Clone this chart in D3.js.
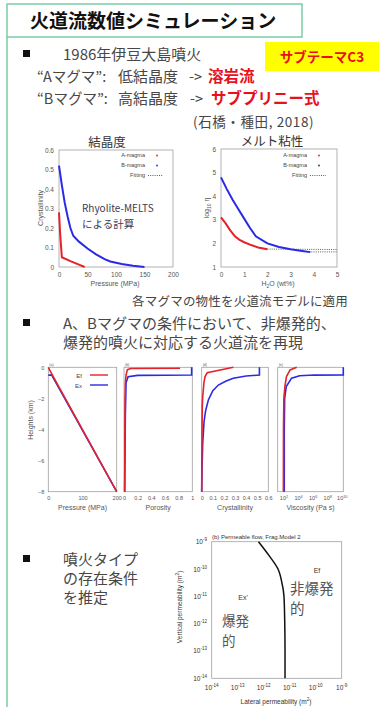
<!DOCTYPE html>
<html><head><meta charset="utf-8">
<script src="https://cdn.jsdelivr.net/npm/d3@7"></script>
<style>body{margin:0;background:#fff}svg{display:block}</style></head>
<body>
<script>
// ---------- DATA ----------
// Chart 1: crystallinity vs pressure (MPa)
const crystA = [[0,0.28],[2,0.17],[5,0.05],[20,0.03],[35,0.012],[45,0]];
const crystB = [[0,0.52],[5,0.42],[10,0.33],[15,0.26],[20,0.2],[25,0.16],[35,0.13],[50,0.095],[65,0.065],[80,0.04],[90,0.028],[110,0.015],[130,0.006],[150,0]];
const crystXTicks = [0,50,100,150,200];
const crystYTicks = [0,0.1,0.2,0.3,0.4,0.5,0.6];
// Chart 2: log10 melt viscosity vs H2O wt%
const viscA = [[0,3.1],[0.2,2.85],[0.4,2.55],[0.6,2.3],[0.8,2.15],[1.0,2.05],[1.3,1.93],[1.6,1.83],[2.0,1.75]];
const viscB = [[0,4.8],[0.25,4.3],[0.5,3.85],[0.75,3.45],[1.0,3.05],[1.25,2.65],[1.5,2.3],[2.0,2.0],[2.5,1.85],[3.0,1.75],[3.5,1.68],[3.85,1.63]];
const fitA = [[1.9,1.76],[5,1.74]];
const fitB = [[3.8,1.64],[5,1.64]];
const viscXTicks = [0,1,2,3,4,5];
const viscYTicks = [1,2,3,4,5,6];
// Conduit flow profiles, height (km)
const pressEf = [[0,0],[12,-0.5],[200,-8]];
const pressEx = [[0,-0.5],[10,-0.5],[200,-8]];
const porEf = [[0.01,-8],[0.015,-2],[0.02,-1],[0.03,-0.5],[0.05,-0.15],[0.1,-0.08],[0.82,-0.06]];
const porEx = [[0.01,-8],[0.02,-3],[0.03,-1],[0.06,-0.6],[0.2,-0.52],[0.99,-0.5],[0.99,0]];
const cryEf = [[0,-8],[0.003,-4],[0.005,-2.5],[0.01,-1.8],[0.02,-1],[0.03,-0.6],[0.05,-0.35],[0.285,0]];
const cryEx = [[0,-8],[0.003,-6.5],[0.009,-4.9],[0.021,-3.5],[0.035,-2.8],[0.06,-2.1],[0.1,-1.5],[0.15,-1.14],[0.22,-0.88],[0.285,-0.7],[0.4,-0.56],[0.52,-0.5],[0.52,0]];
const visEf = [[60,-8],[62,-4],[70,-2],[100,-1.2],[160,-0.6],[500,-0.17],[4000,0]];
const visEx = [[80,-8],[80,-4],[90,-2],[150,-1.24],[800,-0.7],[1e4,-0.54],[1e6,-0.5],[1e10,-0.49],[1e10,0]];
const heightTicks = [0,-2,-4,-6,-8];
const pressTicks = [0,100,200];
const porTicks = [0,0.2,0.4,0.6,0.8,1];
const cryTicks = [0,0.1,0.2,0.3,0.4,0.5,0.6];
const visTickExp = [2,4,6,8,10];
// Regime diagram: log10 permeability (m^2)
const boundaryLogKx = [-12.2,-11.8,-11.45,-11.3,-11.22,-11.19,-11.18,-11.18];
const boundaryLogKz = [-9,-9.5,-10,-10.5,-11,-12,-13,-14];
const permTickExp = [-14,-13,-12,-11,-10,-9];

// ---------- SETUP ----------
const W=383,H=707;
const JP='"Noto Sans CJK JP", sans-serif';
const LAT='"Liberation Sans", Arial, sans-serif';
const RED='#e4222a', BLUE='#2a2ae6', GREEN='#73c8a0', TXT='#474747';
const svg=d3.select('body').append('svg').attr('width',W).attr('height',H);

svg.append('rect').attr('x',7).attr('y',4).attr('width',295).attr('height',33)
  .attr('fill','none').attr('stroke',GREEN).attr('stroke-width',1.4);
svg.append('line').attr('x1',7).attr('x2',7).attr('y1',37).attr('y2',H)
  .attr('stroke',GREEN).attr('stroke-width',1.4);

function txt(x,y,s,o={}){
  const t=svg.append('text').attr('x',x).attr('y',y).text(s)
    .attr('font-family',o.ff||JP).attr('font-size',o.fs||15)
    .attr('fill',o.fill||TXT).attr('text-anchor',o.anchor||'start');
  if(o.fw) t.attr('font-weight',o.fw);
  if(o.ls) t.attr('letter-spacing',o.ls);
  return t;
}
txt(30,28,'火道流数値シミュレーション',{fs:19,fw:'bold',fill:'#111'});
svg.append('rect').attr('x',265).attr('y',42).attr('width',114).attr('height',29).attr('fill','#ffff00');
txt(322,62,'サブテーマC3',{fs:13.5,fw:'bold',fill:'#e8101a',anchor:'middle'});

function bullet(y){svg.append('rect').attr('x',23).attr('y',y-4).attr('width',7).attr('height',7).attr('fill','#111');}
bullet(54);
txt(63,60,'1986年伊豆大島噴火',{fs:15});
txt(37,82,'“Aマグマ”:',{fs:14.5});
txt(118,82,'低結晶度',{fs:15});
txt(189,82,'->',{fs:14.5});
txt(208,82,'溶岩流',{fs:15.5,fw:'bold',fill:'#e8101a'});
txt(37,104,'“Bマグマ”:',{fs:14.5});
txt(118,104,'高結晶度',{fs:15});
txt(190,104,'->',{fs:14.5});
txt(211,104,'サブプリニー式',{fs:15.5,fw:'bold',fill:'#e8101a'});
txt(193,127,'(石橋・種田, 2018)',{fs:13.5,ls:0.6});

function frame(x0,y0,x1,y1){
  svg.append('rect').attr('x',x0).attr('y',y0).attr('width',x1-x0).attr('height',y1-y0)
   .attr('fill','none').attr('stroke','#a0a0a0').attr('stroke-width',0.8);
}
function styleAxis(g,fs){
  g.select('.domain').remove();
  g.selectAll('line').attr('stroke','#a0a0a0');
  g.selectAll('text').attr('font-family',LAT).attr('font-size',fs).attr('fill','#555');
}
const lineGen=(xs,ys)=>d3.line().x(d=>xs(d[0])).y(d=>ys(d[1]));

// ---------- Chart 1: Crystallinity ----------
{
  const x=d3.scaleLinear([0,200],[59,173]), y=d3.scaleLinear([0,0.6],[267,150]);
  frame(59,150,173,267);
  styleAxis(svg.append('g').attr('transform','translate(0,267)')
    .call(d3.axisBottom(x).tickValues(crystXTicks).tickSize(0).tickPadding(5)),6.5);
  styleAxis(svg.append('g').attr('transform','translate(59,0)')
    .call(d3.axisLeft(y).tickValues(crystYTicks).tickSize(0).tickPadding(5).tickFormat(d=>d===0?'0':d3.format('.1f')(d))),6.5);
  svg.append('path').attr('d',lineGen(x,y)(crystB)).attr('fill','none').attr('stroke',BLUE).attr('stroke-width',2);
  svg.append('path').attr('d',lineGen(x,y)(crystA)).attr('fill','none').attr('stroke',RED).attr('stroke-width',2);
  txt(115,286,'Pressure (MPa)',{ff:LAT,fs:7,fill:'#555',anchor:'middle'});
  txt(0,0,'Crystallinity',{ff:LAT,fs:7,fill:'#555',anchor:'middle'}).attr('transform','translate(43,208) rotate(-90)');
  txt(107,147,'結晶度',{fs:12.5,anchor:'middle',fill:'#333'});
  txt(145,157,'A-magma',{ff:LAT,fs:5.5,fill:'#444',anchor:'end'});
  txt(145,167,'B-magma',{ff:LAT,fs:5.5,fill:'#444',anchor:'end'});
  txt(145,177,'Fitting',{ff:LAT,fs:5.5,fill:'#444',anchor:'end'});
  svg.append('circle').attr('cx',157).attr('cy',155.5).attr('r',0.9).attr('fill',RED);
  svg.append('circle').attr('cx',157).attr('cy',165.5).attr('r',0.9).attr('fill',BLUE);
  svg.append('line').attr('x1',148).attr('x2',163).attr('y1',175.5).attr('y2',175.5)
    .attr('stroke','#333').attr('stroke-width',0.8).attr('stroke-dasharray','1,1.2');
  txt(82,212,'Rhyolite-MELTS',{fs:10,fill:'#3c3c55'});
  txt(82,228,'による計算',{fs:10.5,fill:'#3c3c55'});
}

// ---------- Chart 2: Melt viscosity ----------
{
  const x=d3.scaleLinear([0,5],[221,337]), y=d3.scaleLinear([1,6],[267,149]);
  frame(221,149,337,267);
  styleAxis(svg.append('g').attr('transform','translate(0,267)')
    .call(d3.axisBottom(x).tickValues(viscXTicks).tickSize(0).tickPadding(5).tickFormat(d3.format('d'))),6.5);
  styleAxis(svg.append('g').attr('transform','translate(221,0)')
    .call(d3.axisLeft(y).tickValues(viscYTicks).tickSize(0).tickPadding(5).tickFormat(d3.format('d'))),6.5);
  const dash=(d)=>svg.append('path').attr('d',lineGen(x,y)(d)).attr('fill','none').attr('stroke','#333')
     .attr('stroke-width',0.8).attr('stroke-dasharray','1,1.2');
  dash(fitA); dash(fitB);
  svg.append('path').attr('d',lineGen(x,y)(viscB)).attr('fill','none').attr('stroke',BLUE).attr('stroke-width',2);
  svg.append('path').attr('d',lineGen(x,y)(viscA)).attr('fill','none').attr('stroke',RED).attr('stroke-width',2);
  const xl=txt(278,286,'H',{ff:LAT,fs:7,fill:'#555',anchor:'middle'});
  xl.append('tspan').text('2').attr('font-size',5).attr('dy',2);
  xl.append('tspan').text('O (wt%)').attr('dy',-2);
  const yl=txt(0,0,'log',{ff:LAT,fs:7,fill:'#555',anchor:'middle'}).attr('transform','translate(209,208) rotate(-90)');
  yl.append('tspan').text('10').attr('font-size',5).attr('dy',2);
  yl.append('tspan').text(' η').attr('dy',-2);
  txt(272,146,'メルト粘性',{fs:12.5,anchor:'middle',fill:'#333'});
  txt(307,157,'A-magma',{ff:LAT,fs:5.5,fill:'#444',anchor:'end'});
  txt(307,167,'B-magma',{ff:LAT,fs:5.5,fill:'#444',anchor:'end'});
  txt(307,177,'Fitting',{ff:LAT,fs:5.5,fill:'#444',anchor:'end'});
  svg.append('circle').attr('cx',319).attr('cy',155.5).attr('r',0.9).attr('fill',RED);
  svg.append('circle').attr('cx',319).attr('cy',165.5).attr('r',0.9).attr('fill','#333');
  svg.append('line').attr('x1',310).attr('x2',326).attr('y1',175.5).attr('y2',175.5)
    .attr('stroke','#333').attr('stroke-width',0.8).attr('stroke-dasharray','1,1.2');
}

txt(348,306,'各マグマの物性を火道流モデルに適用',{fs:12.5,anchor:'end',fill:'#444',ls:0.2});
bullet(323);
txt(63,329,'A、Bマグマの条件において、非爆発的、',{fs:15});
txt(63,348,'爆発的噴火に対応する火道流を再現',{fs:15});

// ---------- Conduit profiles ----------
{
  const top=367.3,bot=491.7;
  const y=d3.scaleLinear([0,-8],[top,bot]);
  const panels=[
    {x0:48.3,x1:116.7,scale:d3.scaleLinear([0,200],[48.3,116.7]),ef:pressEf,ex:pressEx,ticks:pressTicks,label:'Pressure (MPa)',lab:'(a)'},
    {x0:124,x1:192.3,scale:d3.scaleLinear([0,1],[124,192.3]),ef:porEf,ex:porEx,ticks:porTicks,label:'Porosity',lab:'(b)'},
    {x0:201.7,x1:268.3,scale:d3.scaleLinear([0,0.6],[201.7,268.3]),ef:cryEf,ex:cryEx,ticks:cryTicks,label:'Crystallinity',lab:'(d)'},
    {x0:277.7,x1:343.3,scale:d3.scaleLog([10,1e10],[277.7,343.3]),ef:visEf,ex:visEx,ticks:null,label:'Viscosity (Pa s)',lab:'(e)'}
  ];
  panels.forEach((p,i)=>{
    frame(p.x0,top,p.x1,bot);
    if(p.ticks){
      styleAxis(svg.append('g').attr('transform',`translate(0,${bot})`)
        .call(d3.axisBottom(p.scale).tickValues(p.ticks).tickSize(0).tickPadding(4).tickFormat(d=>String(d))),5.5);
    } else {
      visTickExp.forEach(e=>{
        const tt=txt(p.scale(Math.pow(10,e))-1,500,'10',{ff:LAT,fs:5.5,fill:'#555',anchor:'middle'});
        tt.append('tspan').text(e).attr('font-size',3.8).attr('dy',-2.5);
      });
    }
    svg.append('path').attr('d',lineGen(p.scale,y)(p.ex)).attr('fill','none').attr('stroke',BLUE).attr('stroke-width',1.6);
    svg.append('path').attr('d',lineGen(p.scale,y)(p.ef)).attr('fill','none').attr('stroke',RED).attr('stroke-width',1.6);
    txt((p.x0+p.x1)/2,510,p.label,{ff:LAT,fs:7,fill:'#555',anchor:'middle'});
    txt(p.x0+1,366,p.lab,{ff:LAT,fs:3.5,fill:'#555'});
  });
  styleAxis(svg.append('g').attr('transform','translate(48.3,0)')
    .call(d3.axisLeft(y).tickValues(heightTicks).tickSize(0).tickPadding(4)),5.5);
  txt(0,0,'Heights (km)',{ff:LAT,fs:7,fill:'#555',anchor:'middle'}).attr('transform','translate(33,420) rotate(-90)');
  txt(82,377.5,'Ef',{ff:LAT,fs:6,fill:'#444',anchor:'end'});
  txt(82,387.5,'Ex',{ff:LAT,fs:6,fill:'#444',anchor:'end'});
  svg.append('line').attr('x1',90).attr('x2',108).attr('y1',375).attr('y2',375).attr('stroke',RED).attr('stroke-width',1.4);
  svg.append('line').attr('x1',90).attr('x2',108).attr('y1',385).attr('y2',385).attr('stroke',BLUE).attr('stroke-width',1.4);
}

// ---------- Regime diagram ----------
bullet(559);
txt(63,565,'噴火タイプ',{fs:15});
txt(63,584,'の存在条件',{fs:15});
txt(63,603,'を推定',{fs:15});
{
  const x=d3.scaleLinear([-14,-9],[211.7,341.7]), y=d3.scaleLinear([-14,-9],[678.3,541.7]);
  frame(211.7,541.7,341.7,678.3);
  permTickExp.forEach(e=>{
    const a=txt(x(e),690,'10',{ff:LAT,fs:6.5,fill:'#333',anchor:'middle'});
    a.append('tspan').text(e).attr('font-size',4.5).attr('dy',-3);
    const b=txt(207,y(e)+2.5,'10',{ff:LAT,fs:6.5,fill:'#333',anchor:'end'});
    b.append('tspan').text(e).attr('font-size',4.5).attr('dy',-3);
  });
  const pts=boundaryLogKx.map((v,i)=>[v,boundaryLogKz[i]]);
  svg.append('path').attr('d',d3.line().curve(d3.curveMonotoneY).x(d=>x(d[0])).y(d=>y(d[1]))(pts))
    .attr('fill','none').attr('stroke','#111').attr('stroke-width',1.5);
  txt(212,539,'(b) Permeable flow, Frag.Model 2',{ff:LAT,fs:6,fill:'#333'});
  const xl=txt(276,704,'Lateral permeability (m',{ff:LAT,fs:6.5,fill:'#333',anchor:'middle'});
  xl.append('tspan').text('2').attr('font-size',4.5).attr('dy',-3);
  xl.append('tspan').text(')').attr('dy',3);
  const yl=txt(0,0,'Vertical permeability (m',{ff:LAT,fs:6.5,fill:'#333',anchor:'middle'}).attr('transform','translate(182,607) rotate(-90)');
  yl.append('tspan').text('2').attr('font-size',4.5).attr('dy',-3);
  yl.append('tspan').text(')').attr('dy',3);
  txt(243,600,"Ex'",{ff:LAT,fs:7,fill:'#333',anchor:'middle'});
  txt(317,573,'Ef',{ff:LAT,fs:7,fill:'#333',anchor:'middle'});
  txt(290,594,'非爆発',{fs:14.5,fill:'#555'});
  txt(290,614,'的',{fs:14.5,fill:'#555'});
  txt(222,626,'爆発',{fs:13.5,fill:'#555'});
  txt(222,646,'的',{fs:13.5,fill:'#555'});
}
</script>
</body></html>
